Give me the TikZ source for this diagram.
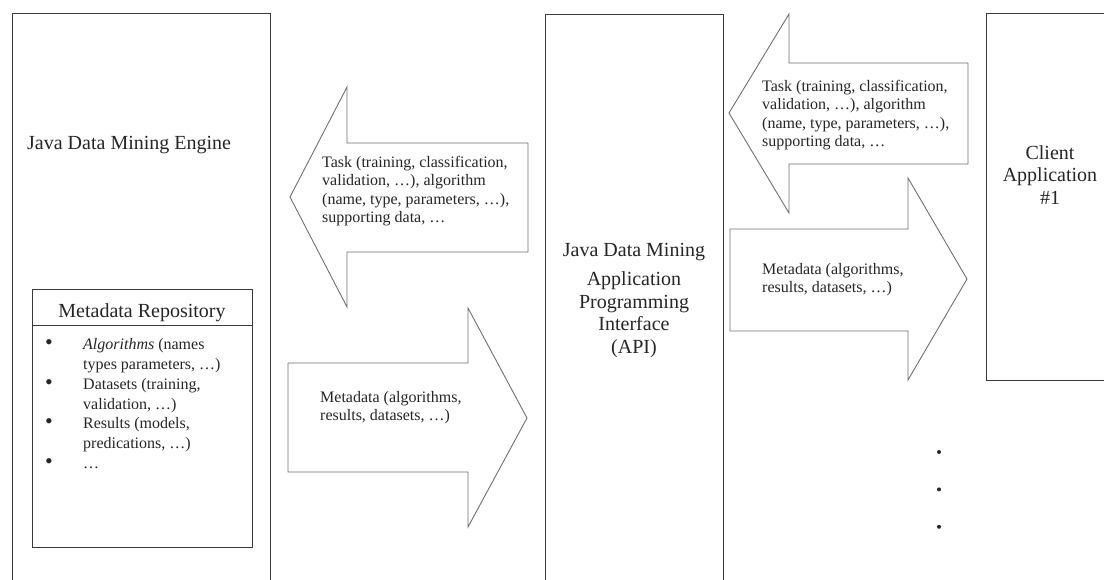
\documentclass[tikz,border=0pt]{standalone}
\usepackage{fontspec}
\setmainfont{Liberation Serif}
\usetikzlibrary{positioning}
\definecolor{jdmInk}{HTML}{3A3A3A}
\definecolor{jdmGray}{HTML}{707070}
\newcommand{\repobullet}{{\fontsize{22}{19.7}\selectfont\textbullet}}

\begin{document}
\begin{tikzpicture}[
  x=1pt,
  y=-1pt,
  box/.style={
    draw=jdmInk,
    line width=1.1pt,
    fill=white,
    inner sep=0pt,
    anchor=north west
  },
  blockarrow/.style={draw=jdmGray, line width=0.9pt, fill=white, line join=miter},
  bigtext/.style={font=\fontsize{20}{22.5}\selectfont, inner sep=0pt, text=black!85},
  smalltext/.style={
    font=\fontsize{16}{18.5}\selectfont,
    inner sep=0pt,
    align=left,
    anchor=north west,
    text=black!85
  },
  dot/.style={circle, fill=black!85, inner sep=0pt, minimum size=4pt}
]
\useasboundingbox (0,0) rectangle (1104,579);
\clip (0,0) rectangle (1104,579);

\node[box, minimum width=258, minimum height=620] (engine) at (12,13) {};
\node[box, minimum width=178, minimum height=620] (api)    at (545,14) {};
\node[box, minimum width=200, minimum height=367] (client) at (986,13) {};
\node[box, minimum width=220, minimum height=258] (repo)   at (32,289) {};
\node[box, minimum width=220, minimum height=36]  (repohead) at (32,289) {};

\node[bigtext, anchor=north west] (enginetext) at (27,136) {Java Data Mining Engine};
\node[bigtext, anchor=base] (repotitle) at (142,317) {Metadata Repository};
\node[anchor=north west, inner sep=0pt, text=black!85, font=\fontsize{16}{19.7}\selectfont] (repolist) at (45,336) {%
  \begin{tabular}{@{}p{38pt}@{}l@{}}
    \repobullet & \textit{Algorithms} (names\\
                & types parameters, \dots)\\
    \repobullet & Datasets (training,\\
                & validation, \dots)\\
    \repobullet & Results (models,\\
                & predications, \dots)\\
    \repobullet & \dots
  \end{tabular}};

\node[bigtext, align=center, anchor=north] (apitext) at (634,243)
  {Java Data Mining\\[7pt] Application\\ Programming\\ Interface\\ (API)};
\node[bigtext, align=center, anchor=north] (clienttext) at (1050,145)
  {Client\\ Application\\ \#1};

\draw[blockarrow] (528,143) -- (347,143) -- (347,87) -- (290,197) -- (347,307) -- (347,252) -- (528,252) -- cycle;
\draw[blockarrow] (288,363) -- (468,363) -- (468,308) -- (527,418) -- (468,527) -- (468,472) -- (288,472) -- cycle;
\draw[blockarrow] (968,63) -- (789,63) -- (789,14) -- (729,113) -- (789,213) -- (789,164) -- (968,164) -- cycle;
\draw[blockarrow] (730,229) -- (908,229) -- (908,178) -- (967,279) -- (908,380) -- (908,331) -- (730,331) -- cycle;

\node[smalltext] (tasktoengine) at (322,156)
  {Task (training, classification,\\ validation, \dots), algorithm\\ (name, type, parameters, \dots),\\ supporting data, \dots};
\node[smalltext] (metatoapi) at (320,391)
  {Metadata (algorithms,\\ results, datasets, \dots)};
\node[smalltext] (tasktoapi) at (762,80)
  {Task (training, classification,\\ validation, \dots), algorithm\\ (name, type, parameters, \dots),\\ supporting data, \dots};
\node[smalltext] (metatoclient) at (762,263)
  {Metadata (algorithms,\\ results, datasets, \dots)};

\node[dot] (more1) at (939,452) {};
\node[dot, below=33pt of more1] (more2) {};
\node[dot, below=33pt of more2] (more3) {};
\end{tikzpicture}
\end{document}
